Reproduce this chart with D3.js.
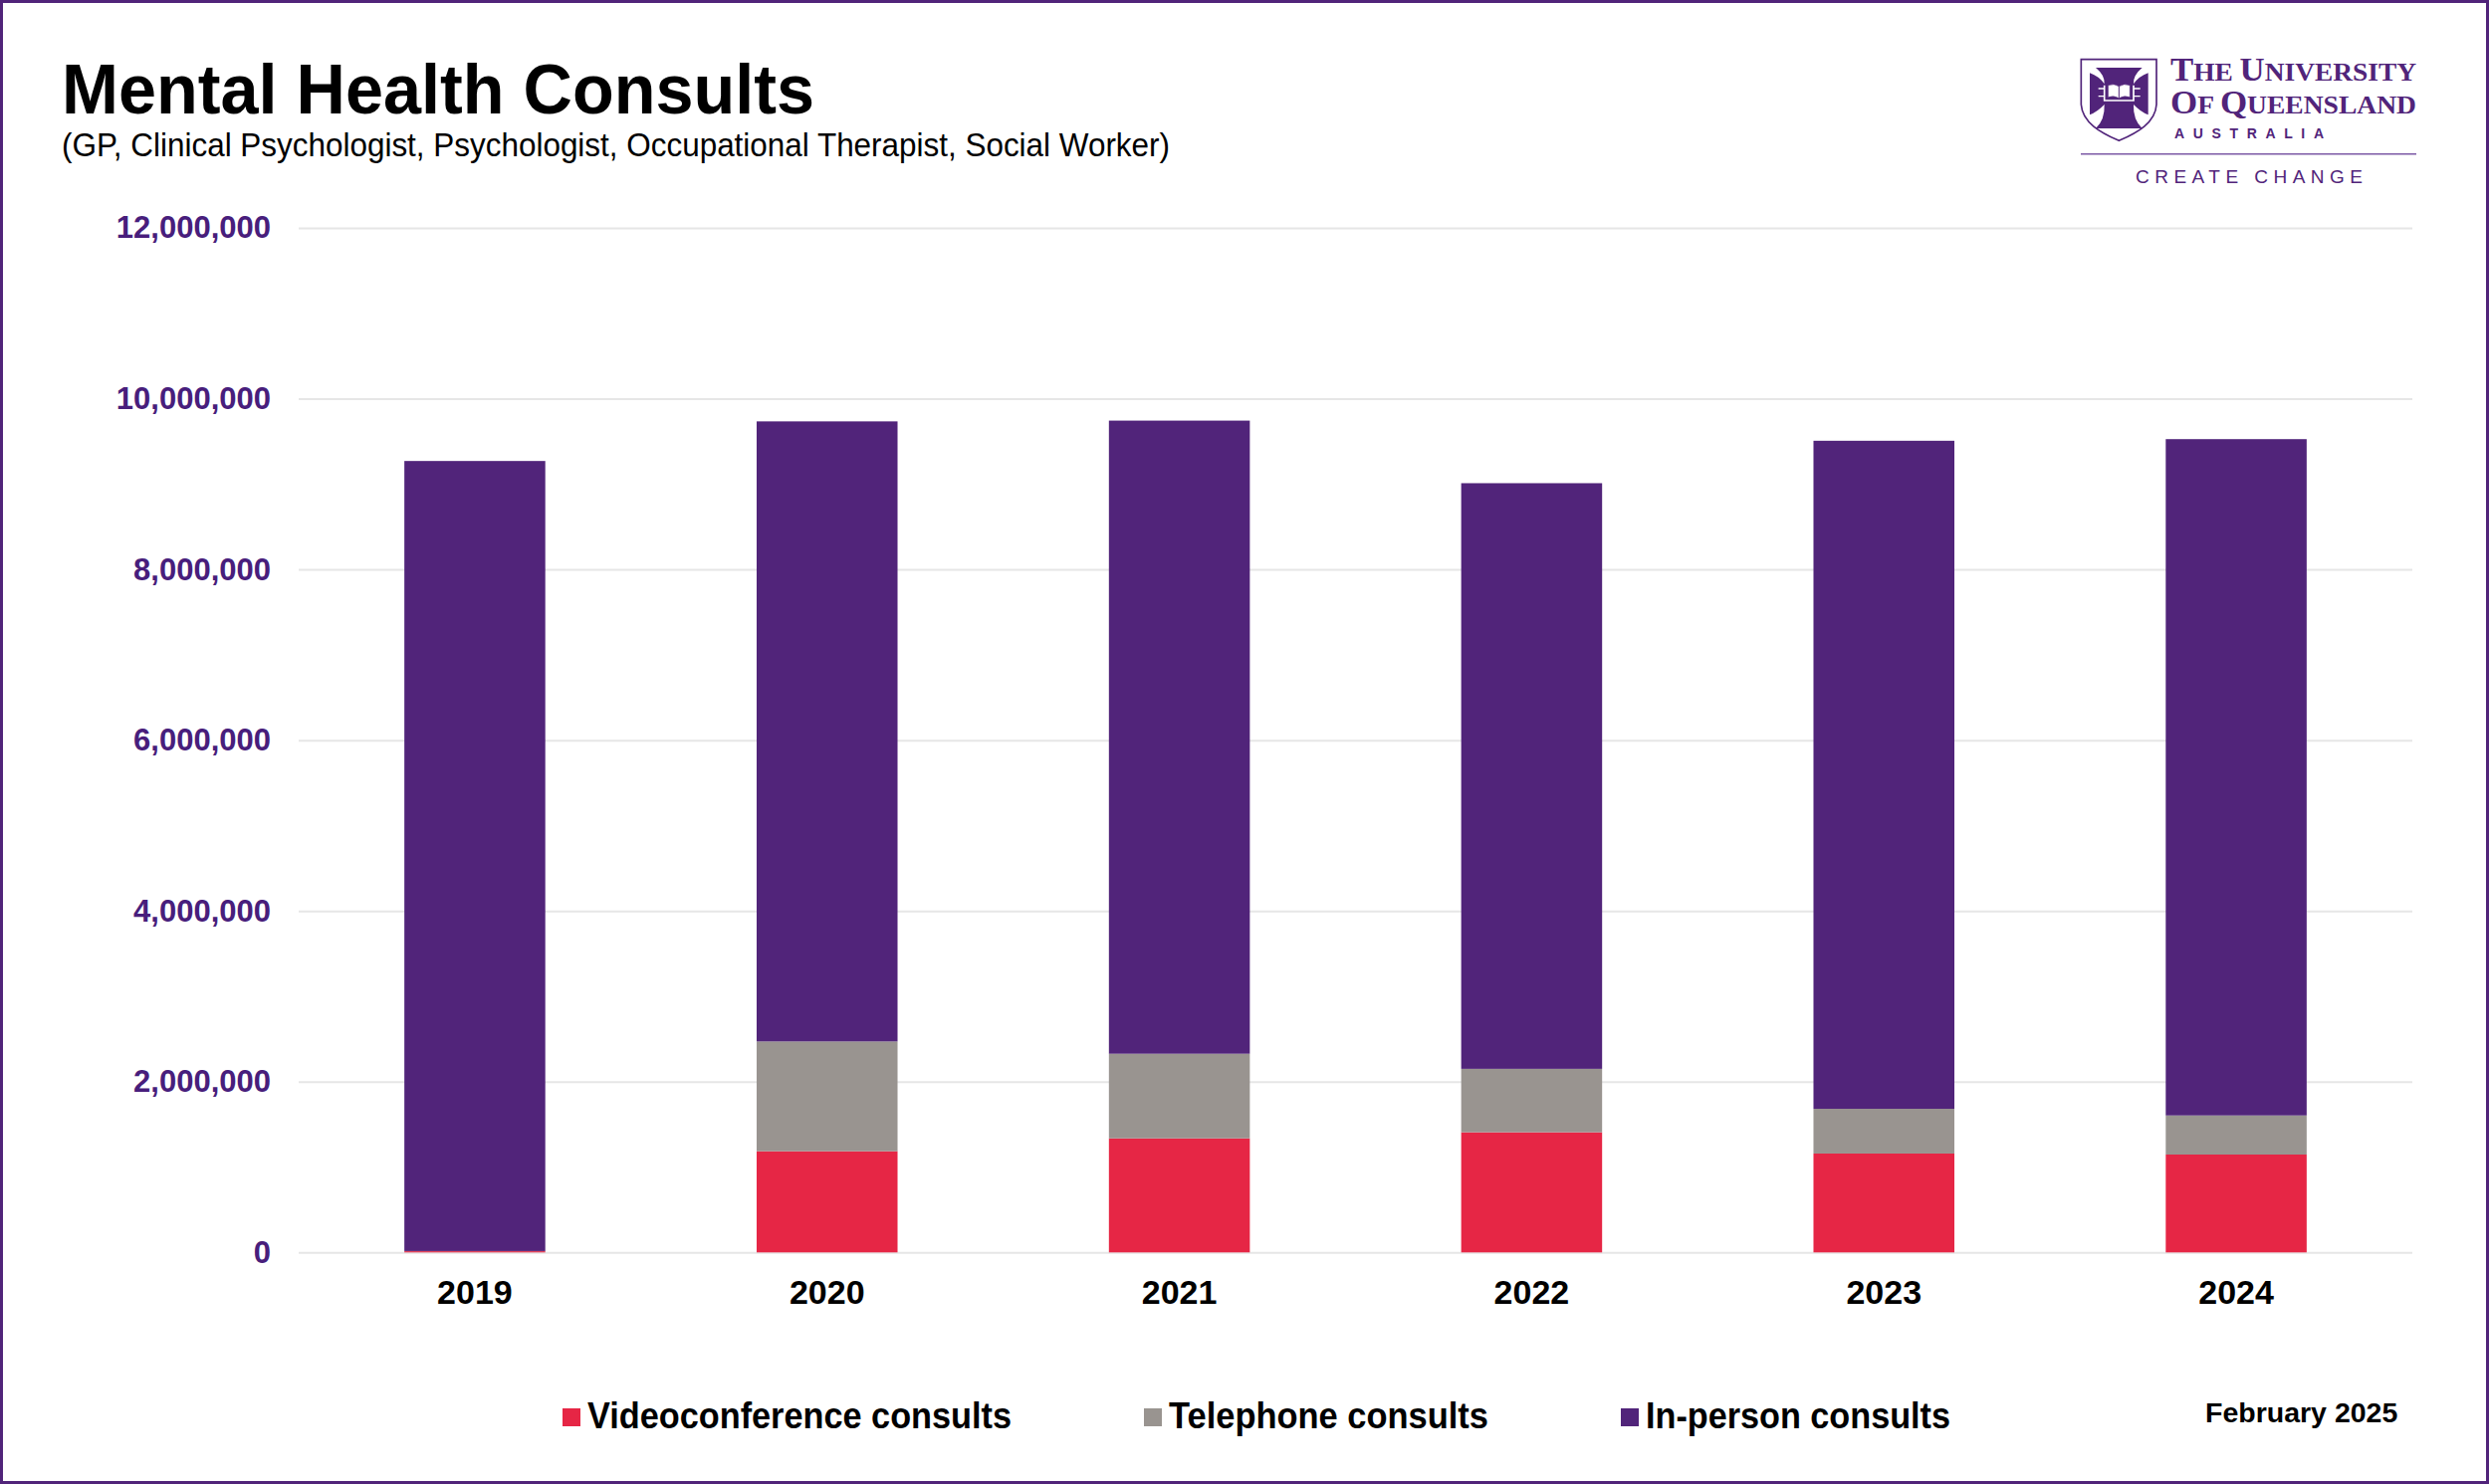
<!DOCTYPE html>
<html>
<head>
<meta charset="utf-8">
<script src="https://cdn.jsdelivr.net/npm/d3@7"></script>
<style>
html,body{margin:0;padding:0;background:#fff}
svg{display:block}
text{font-family:"Liberation Sans",Arial,sans-serif}
</style>
</head>
<body>
<div id="chart"></div>
<script>
const years = ["2019","2020","2021","2022","2023","2024"];
const videoconference = [14000,1185000,1336000,1407000,1158000,1146000];
const telephone = [2000,1286000,991000,743000,524000,458000];
const inPerson = [9254000,7263000,7416000,6860000,7825000,7922000];
const seriesNames = ["Videoconference consults","Telephone consults","In-person consults"];
const seriesColors = ["#E62645","#999490","#51247A"];
const yTicks = [0,2000000,4000000,6000000,8000000,10000000,12000000];

const W = 2500, H = 1491;
const purple = "#51247A", tickPurple = "#481e7c";
const svg = d3.select("#chart").append("svg").attr("width",W).attr("height",H);
svg.append("rect").attr("x",1.5).attr("y",1.5).attr("width",W-3).attr("height",H-3)
  .attr("fill","#fff").attr("stroke",purple).attr("stroke-width",3);

// Title
svg.append("text").attr("x",62).attr("y",114).attr("font-size",70).attr("font-weight",700)
  .attr("textLength",756).attr("lengthAdjust","spacingAndGlyphs").text("Mental Health Consults");
svg.append("text").attr("x",62).attr("y",157).attr("font-size",32.5)
  .attr("textLength",1113).attr("lengthAdjust","spacingAndGlyphs")
  .text("(GP, Clinical Psychologist, Psychologist, Occupational Therapist, Social Worker)");

// Scales
const x = d3.scaleBand().domain(years).range([300,2423]).paddingInner(0.6).paddingOuter(0.3);
const y = d3.scaleLinear().domain([0,12000000]).range([1258.3,229]);

// Y axis with gridlines
const yAxis = d3.axisLeft(y).tickValues(yTicks).tickSize(-(2423-300)).tickPadding(28)
  .tickFormat(d3.format(","));
const gy = svg.append("g").attr("transform","translate(300,0)").call(yAxis);
gy.select(".domain").remove();
gy.selectAll("line").attr("stroke","#e6e6e6").attr("stroke-width",2);
gy.selectAll("text").attr("font-size",31).attr("font-weight",700).attr("fill",tickPurple)
  .attr("font-family","Liberation Sans");

// Bars
const rows = years.map((yr,i)=>({year:yr,video:videoconference[i],tele:telephone[i],person:inPerson[i]}));
const stack = d3.stack().keys(["video","tele","person"]);
const layers = stack(rows);
svg.append("g").selectAll("g").data(layers).join("g").attr("fill",(d,i)=>seriesColors[i])
  .selectAll("rect").data(d=>d).join("rect")
  .attr("x",d=>x(d.data.year)).attr("width",x.bandwidth())
  .attr("y",d=>y(d[1])).attr("height",d=>y(d[0])-y(d[1]));

// X axis
const xAxis = d3.axisBottom(x).tickSize(0).tickPadding(28);
const gx = svg.append("g").attr("transform","translate(0,1258.3)").call(xAxis);
gx.select(".domain").remove();
gx.selectAll("text").attr("font-size",34).attr("font-weight",700).attr("fill","#000")
  .attr("font-family","Liberation Sans");

// Legend
const legendX = [565,1149,1628];
const legendLen = [426,321,306];
const lg = svg.append("g").selectAll("g").data(seriesNames).join("g")
  .attr("transform",(d,i)=>`translate(${legendX[i]},1415)`);
lg.append("rect").attr("width",18).attr("height",18).attr("fill",(d,i)=>seriesColors[i]);
lg.append("text").attr("x",25).attr("y",20).attr("font-size",36).attr("font-weight",700)
  .attr("textLength",(d,i)=>legendLen[i]).attr("lengthAdjust","spacingAndGlyphs").text(d=>d);

svg.append("text").attr("x",2215).attr("y",1429).attr("font-size",28.5).attr("font-weight",700).text("February 2025");

// Logo
const logo = svg.append("g").attr("fill",purple);
const crest = logo.append("g").attr("transform","translate(2085,55) scale(0.33333)");
crest.append("path").attr("d","M16,14 H243 V150 C240,205 185,235 130,259 C75,235 20,205 16,150 Z")
  .attr("fill","#fff").attr("stroke",purple).attr("stroke-width",5);
crest.append("path").attr("d","M60,39 H200 Q172,62 174,88 Q190,65 218,55 V181 Q195,172 174,150 Q172,196 200,222 H60 Q88,196 86,150 Q65,172 42,181 V55 Q70,65 86,88 Q88,62 60,39 Z");
crest.append("path").attr("d","M86,92 V138 H174 V92").attr("fill","none").attr("stroke","#fff").attr("stroke-width",5);
crest.append("path").attr("d","M97,92 Q115,85 130,95 Q145,85 163,92 V128 Q145,122 130,131 Q115,122 97,128 Z")
  .attr("fill","#fff").attr("stroke",purple).attr("stroke-width",2);
crest.append("path").attr("d","M130,95 V131").attr("stroke",purple).attr("stroke-width",3);
crest.append("path").attr("d","M68,102 H86 M68,125 H86 M174,102 H194 M174,125 H194")
  .attr("stroke","#fff").attr("stroke-width",4).attr("fill","none");

function smallCaps(px, py, len, parts){
  const t = logo.append("text").attr("x",px).attr("y",py).attr("font-family","Liberation Serif")
    .attr("font-weight",700).attr("textLength",len).attr("lengthAdjust","spacingAndGlyphs");
  parts.forEach(p=>t.append("tspan").attr("font-size",p[1]).attr("font-family","Liberation Serif").text(p[0]));
}
smallCaps(2180,81,247,[["T",33],["HE ",26],["U",33],["NIVERSITY",26]]);
smallCaps(2180,114,247,[["O",33],["F ",26],["Q",33],["UEENSLAND",26]]);
logo.append("text").attr("x",2184).attr("y",139).attr("font-size",14).attr("font-weight",700)
  .attr("font-family","Liberation Serif").attr("textLength",150).attr("lengthAdjust","spacing").text("AUSTRALIA");
logo.append("rect").attr("x",2090).attr("y",154).attr("width",337).attr("height",1.5).attr("fill","#7d5ba6");
logo.append("text").attr("x",2145).attr("y",184).attr("font-size",19)
  .attr("font-family","Lato").attr("textLength",228).attr("lengthAdjust","spacing").text("CREATE CHANGE");
</script>
</body>
</html>
